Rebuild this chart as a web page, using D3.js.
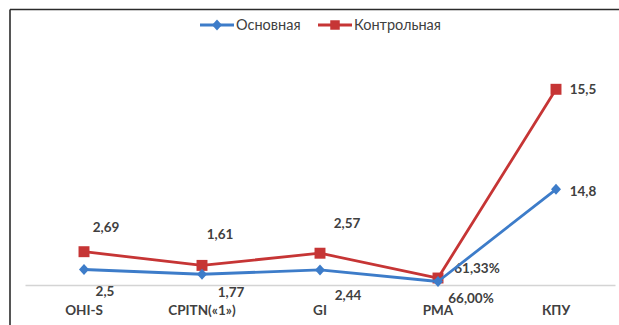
<!DOCTYPE html>
<html>
<head>
<meta charset="utf-8">
<script src="https://cdn.jsdelivr.net/npm/d3@7"></script>
<style>
  html, body { margin: 0; padding: 0; background: #fff; }
  svg { display: block; }
  text { font-family: Lato, "Liberation Sans", Arial, sans-serif; fill: #404040; }
</style>
</head>
<body>
<svg id="chart" width="619" height="325"></svg>
<script>
// Indicators compared between the two groups
const categories = ["OHI-S", "CPITN(«1»)", "GI", "PMA", "КПУ"];
const seriesNames = ["Основная", "Контрольная"];
// Основная group (secondary value axis)
const mainValues = [2.5, 1.77, 2.44, 0.66, 14.8];
const mainLabels = ["2,5", "1,77", "2,44", "66,00%", "14,8"];
// Контрольная group (primary value axis)
const controlValues = [2.69, 1.61, 2.57, 0.6133, 15.5];
const controlLabels = ["2,69", "1,61", "2,57", "61,33%", "15,5"];

// Label offsets from each point [dx, dy]
const mainLabelOffsets = [[21, 22], [29, 18], [28, 25], [33, 17], [27, 2]];
const controlLabelOffsets = [[22, -24], [18, -31], [27, -30], [39, -10], [27, 0]];

const colors = { main: "#3d7cc9", control: "#c63535" };

const svg = d3.select("#chart");
const W = 619, H = 325;
const plot = { left: 25, right: 615, top: 57.6, bottom: 285.8 };
const labelFont = "13.5px";

// Frame lines (top and left)
svg.append("line").attr("x1", 10).attr("x2", W).attr("y1", 9.5).attr("y2", 9.5)
  .attr("stroke", "#2b2b2b").attr("stroke-width", 1.6);
svg.append("line").attr("x1", 10).attr("x2", 10).attr("y1", 9.5).attr("y2", H)
  .attr("stroke", "#2b2b2b").attr("stroke-width", 1.6);

const x = d3.scaleBand().domain(categories).range([plot.left, plot.right]);
const cx = c => x(c) + x.bandwidth() / 2;
const yControl = d3.scaleLinear().domain([0, 18]).range([plot.bottom, plot.top]);
const yMain = d3.scaleLinear().domain([0, 35]).range([plot.bottom, plot.top]);

// Category axis
const xAxis = svg.append("g")
  .attr("transform", `translate(0,${plot.bottom - 0.8})`)
  .call(d3.axisBottom(x).tickSize(0).tickPadding(0));
xAxis.select(".domain").attr("stroke", "#d4d4d4").attr("stroke-width", 1.5);
xAxis.selectAll("text")
  .attr("y", 25).attr("dy", "0.35em")
  .style("font-family", "Lato, 'Liberation Sans', Arial, sans-serif")
  .style("font-size", labelFont).style("font-weight", "bold").attr("fill", "#404040");

function drawSeries(values, yScale, color, marker, labels, offsets) {
  const pts = categories.map((c, i) => ({ c, v: values[i], lab: labels[i], off: offsets[i] }));
  const line = d3.line().x(d => cx(d.c)).y(d => yScale(d.v));
  svg.append("path").datum(pts).attr("d", line)
    .attr("fill", "none").attr("stroke", color).attr("stroke-width", 2.8)
    .attr("stroke-linejoin", "round");
  svg.append("g").selectAll("path").data(pts).join("path")
    .attr("transform", d => `translate(${cx(d.c)},${yScale(d.v)})`)
    .attr("d", marker).attr("fill", color);
  svg.append("g").selectAll("text").data(pts).join("text")
    .attr("x", d => cx(d.c) + d.off[0])
    .attr("y", d => yScale(d.v) + d.off[1])
    .attr("dy", "0.35em").attr("text-anchor", "middle")
    .style("font-size", labelFont).style("font-weight", "bold")
    .text(d => d.lab);
}

const squareMarker = d3.symbol().type(d3.symbolSquare).size(120)();
const diamondMarker = "M0,-5.5L5,0L0,5.5L-5,0Z";

drawSeries(controlValues, yControl, colors.control, squareMarker, controlLabels, controlLabelOffsets);
drawSeries(mainValues, yMain, colors.main, diamondMarker, mainLabels, mainLabelOffsets);

// Legend
const legend = svg.append("g").attr("transform", "translate(0,25)");
const legendItems = [
  { name: seriesNames[0], color: colors.main, marker: diamondMarker, x0: 200 },
  { name: seriesNames[1], color: colors.control, marker: d3.symbol().type(d3.symbolSquare).size(90)(), x0: 318 }
];
legendItems.forEach(it => {
  legend.append("line").attr("x1", it.x0).attr("x2", it.x0 + 34).attr("y1", 0).attr("y2", 0)
    .attr("stroke", it.color).attr("stroke-width", 2.8);
  legend.append("path").attr("transform", `translate(${it.x0 + 17},0)`).attr("d", it.marker).attr("fill", it.color);
  legend.append("text").attr("x", it.x0 + 36).attr("y", 0).attr("dy", "0.35em")
    .style("font-size", "14.5px").text(it.name);
});
</script>
</body>
</html>
